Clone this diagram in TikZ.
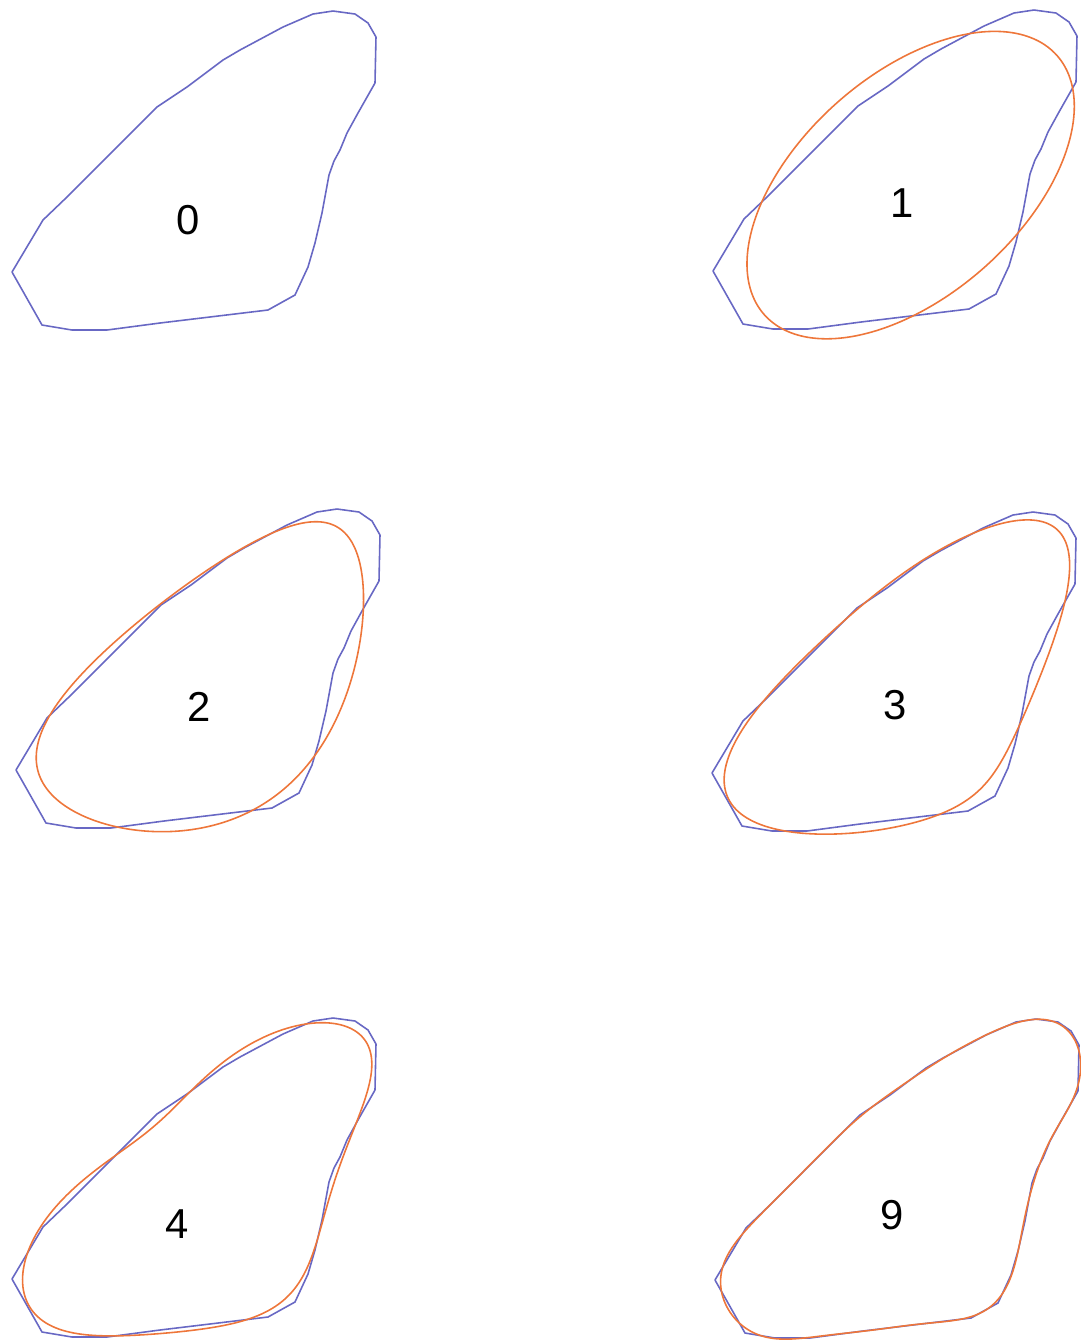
\documentclass[tikz,border=0pt]{standalone}
\usepackage{fontspec}
\setmainfont{Liberation Sans}
\definecolor{polyblue}{RGB}{104,104,196}
\definecolor{fourorange}{RGB}{238,118,58}
\tikzset{
  blueline/.style={draw=polyblue, line width=0.45pt, line join=round},
  orangeline/.style={draw=fourorange, line width=0.45pt, line join=round},
  numlabel/.style={font=\fontsize{11.9}{14}\selectfont, inner sep=0pt, text=black},
  blueshape/.pic={\draw[blueline] (0.12,-2.72) -- (0.43,-2.20) -- (0.67,-1.97) -- (1.57,-1.07) -- (1.87,-0.87) -- (2.23,-0.60) -- (2.40,-0.50) -- (2.83,-0.27) -- (3.13,-0.14) -- (3.33,-0.11) -- (3.55,-0.14) -- (3.68,-0.23) -- (3.76,-0.37) -- (3.75,-0.83) -- (3.58,-1.13) -- (3.47,-1.33) -- (3.40,-1.50) -- (3.34,-1.61) -- (3.29,-1.75) -- (3.22,-2.13) -- (3.15,-2.43) -- (3.08,-2.67) -- (2.95,-2.95) -- (2.68,-3.10) -- (1.60,-3.23) -- (1.07,-3.30) -- (0.72,-3.30) -- (0.42,-3.25) -- cycle;}
}
\newcommand\PolyPts{12/272,43/220,67/197,157/107,187/87,223/60,240/50,283/27,313/14,333/11,355/14,368/23,376/37,375/83,358/113,347/133,340/150,334/161,329/175,322/213,315/243,308/267,295/295,268/310,160/323,107/330,72/330,42/325}
% ---- arc length and centroid
\xdef\FDpx{0.42}\xdef\FDpy{-3.25}
\xdef\FDT{0}\xdef\FDSx{0}\xdef\FDSy{0}
\foreach \px/\py in \PolyPts {%
  \pgfmathsetmacro\FDcx{\px/100}%
  \pgfmathsetmacro\FDcy{-\py/100}%
  \pgfmathsetmacro\FDdx{(\FDcx)-(\FDpx)}%
  \pgfmathsetmacro\FDdy{(\FDcy)-(\FDpy)}%
  \pgfmathsetmacro\FDdt{sqrt((\FDdx)*(\FDdx)+(\FDdy)*(\FDdy))}%
  \pgfmathsetmacro\FDtmpa{(\FDT)+(\FDdt)}%
  \pgfmathsetmacro\FDtmpb{(\FDSx)+(\FDdt)*((\FDcx)+(\FDpx))/2}%
  \pgfmathsetmacro\FDtmpc{(\FDSy)+(\FDdt)*((\FDcy)+(\FDpy))/2}%
  \xdef\FDT{\FDtmpa}\xdef\FDSx{\FDtmpb}\xdef\FDSy{\FDtmpc}%
  \xdef\FDpx{\FDcx}\xdef\FDpy{\FDcy}%
}
\pgfmathsetmacro\FDAzero{(\FDSx)/(\FDT)}\xdef\FDAzero{\FDAzero}
\pgfmathsetmacro\FDCzero{(\FDSy)/(\FDT)}\xdef\FDCzero{\FDCzero}
% ---- elliptic Fourier coefficients
\foreach \n in {1,...,9} {%
  \xdef\FDpx{0.42}\xdef\FDpy{-3.25}\xdef\FDt{0}%
  \xdef\FDsa{0}\xdef\FDsb{0}\xdef\FDsc{0}\xdef\FDsd{0}%
  \foreach \px/\py in \PolyPts {%
    \pgfmathsetmacro\FDcx{\px/100}%
    \pgfmathsetmacro\FDcy{-\py/100}%
    \pgfmathsetmacro\FDdx{(\FDcx)-(\FDpx)}%
    \pgfmathsetmacro\FDdy{(\FDcy)-(\FDpy)}%
    \pgfmathsetmacro\FDdt{sqrt((\FDdx)*(\FDdx)+(\FDdy)*(\FDdy))}%
    \pgfmathsetmacro\FDtn{(\FDt)+(\FDdt)}%
    \pgfmathsetmacro\FDphA{360*\n*((\FDt)/(\FDT))}%
    \pgfmathsetmacro\FDphB{360*\n*((\FDtn)/(\FDT))}%
    \pgfmathsetmacro\FDcd{cos(\FDphB)-cos(\FDphA)}%
    \pgfmathsetmacro\FDsdd{sin(\FDphB)-sin(\FDphA)}%
    \pgfmathsetmacro\FDux{(\FDdx)/(\FDdt)}%
    \pgfmathsetmacro\FDuy{(\FDdy)/(\FDdt)}%
    \pgfmathsetmacro\FDtmpa{(\FDsa)+(\FDux)*(\FDcd)}%
    \pgfmathsetmacro\FDtmpb{(\FDsb)+(\FDux)*(\FDsdd)}%
    \pgfmathsetmacro\FDtmpc{(\FDsc)+(\FDuy)*(\FDcd)}%
    \pgfmathsetmacro\FDtmpd{(\FDsd)+(\FDuy)*(\FDsdd)}%
    \xdef\FDsa{\FDtmpa}\xdef\FDsb{\FDtmpb}\xdef\FDsc{\FDtmpc}\xdef\FDsd{\FDtmpd}%
    \xdef\FDt{\FDtn}\xdef\FDpx{\FDcx}\xdef\FDpy{\FDcy}%
  }%
  \pgfmathsetmacro\FDf{(\FDT)/(2*\n*\n*pi*pi)}%
  \pgfmathsetmacro\FDtmpa{(\FDf)*(\FDsa)}\expandafter\xdef\csname FDcoefA\n\endcsname{\FDtmpa}%
  \pgfmathsetmacro\FDtmpb{(\FDf)*(\FDsb)}\expandafter\xdef\csname FDcoefB\n\endcsname{\FDtmpb}%
  \pgfmathsetmacro\FDtmpc{(\FDf)*(\FDsc)}\expandafter\xdef\csname FDcoefC\n\endcsname{\FDtmpc}%
  \pgfmathsetmacro\FDtmpd{(\FDf)*(\FDsd)}\expandafter\xdef\csname FDcoefD\n\endcsname{\FDtmpd}%
}
\newcommand\FDbuild[1]{%
  \xdef\FDX{\FDAzero}\xdef\FDY{\FDCzero}%
  \foreach \n in {1,...,#1}{%
    \xdef\FDX{\unexpanded\expandafter{\FDX}+(\csname FDcoefA\n\endcsname)*cos(\n*\noexpand\tv)+(\csname FDcoefB\n\endcsname)*sin(\n*\noexpand\tv)}%
    \xdef\FDY{\unexpanded\expandafter{\FDY}+(\csname FDcoefC\n\endcsname)*cos(\n*\noexpand\tv)+(\csname FDcoefD\n\endcsname)*sin(\n*\noexpand\tv)}%
  }%
}
\FDbuild{1}\global\let\FDXi\FDX\global\let\FDYi\FDY
\FDbuild{2}\global\let\FDXii\FDX\global\let\FDYii\FDY
\FDbuild{3}\global\let\FDXiii\FDX\global\let\FDYiii\FDY
\FDbuild{4}\global\let\FDXiv\FDX\global\let\FDYiv\FDY
\FDbuild{9}\global\let\FDXix\FDX\global\let\FDYix\FDY
\begin{document}
\begin{tikzpicture}
\useasboundingbox[fill=white] (0,0) rectangle (10.81,-13.41);
% panel 0
\pic at (0,0) {blueshape};
\node[numlabel] (lab0) at (1.88,-2.20) {0};
% panel 1
\pic at (7.01,0.01) {blueshape};
\draw[orangeline, shift={(7.01,0.01)}] plot[variable=\tv, domain=0:360, samples=241] ({\FDXi},{\FDYi});
\node[numlabel] (lab1) at (9.02,-2.03) {1};
% panel 2
\pic at (0.04,-4.98) {blueshape};
\draw[orangeline, shift={(0.04,-4.98)}] plot[variable=\tv, domain=0:360, samples=241] ({\FDXii},{\FDYii});
\node[numlabel] (lab2) at (1.99,-7.07) {2};
% panel 3
\pic at (7.00,-5.01) {blueshape};
\draw[orangeline, shift={(7.00,-5.01)}] plot[variable=\tv, domain=0:360, samples=241] ({\FDXiii},{\FDYiii});
\node[numlabel] (lab3) at (8.95,-7.05) {3};
% panel 4
\pic at (0.00,-10.07) {blueshape};
\draw[orangeline, shift={(0.00,-10.07)}] plot[variable=\tv, domain=0:360, samples=241] ({\FDXiv},{\FDYiv});
\node[numlabel] (lab4) at (1.77,-12.24) {4};
% panel 9
\pic at (7.03,-10.08) {blueshape};
\draw[orangeline, shift={(7.03,-10.08)}] plot[variable=\tv, domain=0:360, samples=361] ({\FDXix},{\FDYix});
\node[numlabel] (lab9) at (8.92,-12.15) {9};
\end{tikzpicture}
\end{document}
